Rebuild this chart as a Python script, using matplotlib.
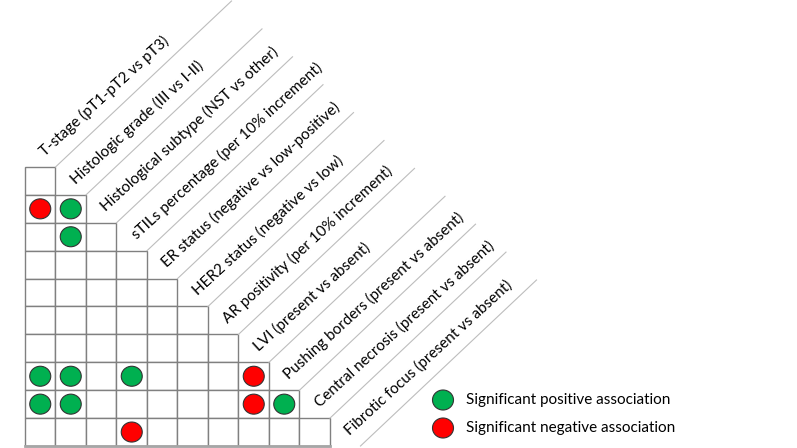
import numpy as np
import matplotlib.pyplot as plt
from matplotlib.patches import Rectangle, Ellipse

plt.rcParams['font.family'] = ['Lato', 'DejaVu Sans']

labels = ['T-stage (pT1-pT2 vs pT3)',
          'Histologic grade (III vs I-II)',
          'Histological subtype (NST vs other)',
          'sTILs percentage (per 10% increment)',
          'ER status (negative vs low-positive)',
          'HER2 status (negative vs low)',
          'AR positivity (per 10% increment)',
          'LVI (present vs absent)',
          'Pushing borders (present vs absent)',
          'Central necrosis (present vs absent)',
          'Fibrotic focus (present vs absent)']

# significant associations: (row, column) in the lower triangle
pos_rows = [1, 2, 7, 7, 7, 8, 8, 8]
pos_cols = [1, 1, 0, 1, 3, 0, 1, 8]
neg_rows = [1, 7, 8, 9]
neg_cols = [0, 7, 7, 3]

legend_labels = ['Significant positive association', 'Significant negative association']
green = '#00B050'
red = '#FF0000'

# layout (pixels)
x0, y0 = 25, 167
cw, ch = 30.5, 27.9
nrows = len(labels) - 1

fig = plt.figure(figsize=(7.97, 4.48), dpi=100)
ax = fig.add_axes([0, 0, 1, 1])
ax.set_xlim(0, 797)
ax.set_ylim(448, 0)
ax.axis('off')

# grid cells
for r in range(nrows):
    for c in range(r + 1):
        ax.add_patch(Rectangle((x0 + c * cw, y0 + r * ch), cw, ch,
                               facecolor='white', edgecolor='#808080', lw=1))
# bottom border a bit heavier
ax.plot([x0, x0 + nrows * cw], [y0 + nrows * ch] * 2, color='#a6a6a6', lw=2)

# diagonal separators and labels
dx, dy = 176, 166
for k in range(1, len(labels) + 1):
    sx = x0 + k * cw
    sy = y0 + (k - 1) * ch
    ax.plot([sx, sx + dx], [sy, sy - dy], color='#bdbdbd', lw=0.8)
for k, lab in enumerate(labels):
    tx = x0 + k * cw + cw / 2 + 2
    ty = y0 + (k - 1) * ch + ch / 2
    ax.text(tx, ty, lab, rotation=42.5, rotation_mode='anchor',
            ha='left', va='center', fontsize=11, color='black')

# dots
def dot(cx, cy, col):
    ax.add_patch(Ellipse((cx, cy), 21, 20, facecolor=col,
                         edgecolor='#333333', lw=0.8, zorder=3))

for r, c in zip(pos_rows, pos_cols):
    dot(x0 + (c + 0.5) * cw, y0 + (r + 0.5) * ch, green)
for r, c in zip(neg_rows, neg_cols):
    dot(x0 + (c + 0.5) * cw, y0 + (r + 0.5) * ch, red)

# legend
for i, (lab, col) in enumerate(zip(legend_labels, [green, red])):
    ly = 400 + i * 28
    dot(443, ly, col)
    ax.text(466, ly, lab, ha='left', va='center', fontsize=11)

fig.savefig('out.png', dpi=100)
